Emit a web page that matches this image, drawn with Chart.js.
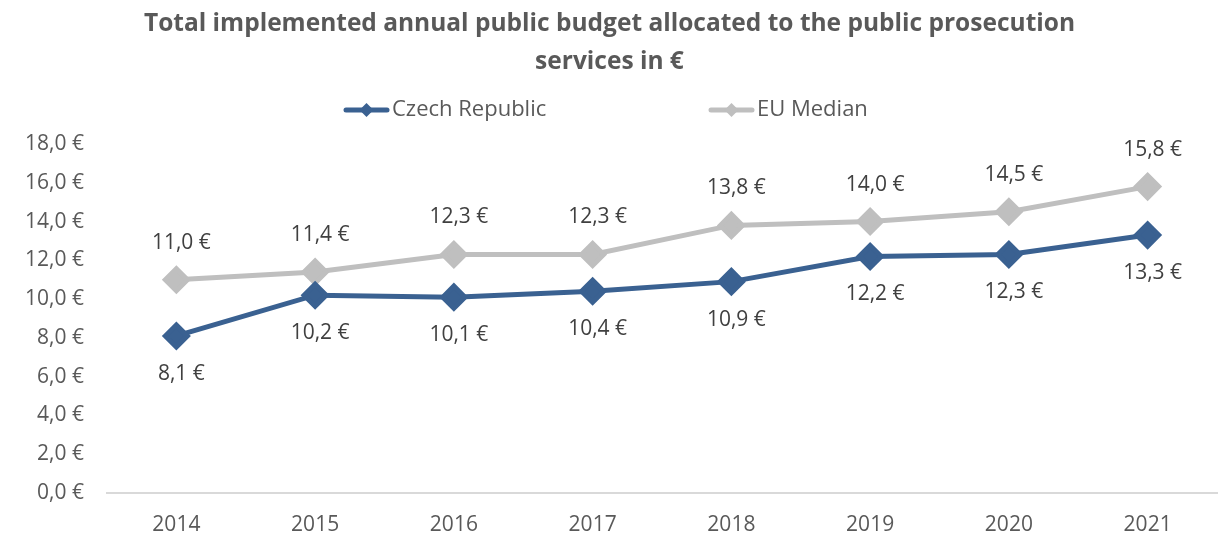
<!DOCTYPE html>
<html>
<head>
<meta charset="utf-8">
<script src="https://cdn.jsdelivr.net/npm/chart.js@4/dist/chart.umd.min.js"></script>
<style>
  html, body { margin: 0; padding: 0; background: #fff; overflow: hidden; }
  canvas { display: block; }
</style>
</head>
<body>
<canvas id="budgetChart" width="1219" height="541"></canvas>
<script>
const years = ['2014', '2015', '2016', '2017', '2018', '2019', '2020', '2021'];
const czechValues = [8.1, 10.2, 10.1, 10.4, 10.9, 12.2, 12.3, 13.3];
const euMedianValues = [11.0, 11.4, 12.3, 12.3, 13.8, 14.0, 14.5, 15.8];
const titleLines = ['Total implemented annual public budget allocated to the public prosecution', 'services in €'];

const FONT = "'Open Sans', sans-serif";
const BLUE = '#3a6191';
const GREY = '#bfbfbf';

const euro = v => v.toFixed(1).replace('.', ',') + ' €';

// value labels: grey above the point, blue below
const valueLabels = {
    id: 'valueLabels',
    afterDatasetsDraw(chart) {
        const ctx = chart.ctx;
        ctx.save();
        ctx.font = '21px ' + FONT;
        ctx.fillStyle = '#404040';
        ctx.textAlign = 'center';
        ctx.textBaseline = 'middle';
        chart.data.datasets.forEach((ds, i) => {
            const meta = chart.getDatasetMeta(i);
            meta.data.forEach((pt, j) => {
                const dy = ds.labelAbove ? -37 : 38;
                ctx.fillText(euro(ds.data[j]), pt.x + 5, pt.y + dy);
            });
        });
        ctx.restore();
    }
};

// legend drawn as line + diamond like the original
const legendX = [343, 708];
const lineLegend = {
    id: 'lineLegend',
    afterDraw(chart) {
        const ctx = chart.ctx;
        const y = 110;
        ctx.save();
        ctx.font = '22px ' + FONT;
        ctx.textBaseline = 'middle';
        chart.data.datasets.forEach((ds, i) => {
            const x = legendX[i];
            ctx.strokeStyle = ds.borderColor;
            ctx.lineWidth = 5;
            ctx.lineCap = 'round';
            ctx.beginPath();
            ctx.moveTo(x + 3, y);
            ctx.lineTo(x + 44, y);
            ctx.stroke();
            ctx.fillStyle = ds.borderColor;
            ctx.beginPath();
            ctx.moveTo(x + 23.5, y - 7);
            ctx.lineTo(x + 30.5, y);
            ctx.lineTo(x + 23.5, y + 7);
            ctx.lineTo(x + 16.5, y);
            ctx.closePath();
            ctx.fill();
            ctx.fillStyle = '#595959';
            ctx.textAlign = 'left';
            ctx.fillText(ds.label, x + 49, y);
        });
        ctx.restore();
    }
};

new Chart(document.querySelector('#budgetChart'), {
    type: 'line',
    data: {
        labels: years,
        datasets: [
            {
                label: 'Czech Republic',
                data: czechValues,
                borderColor: BLUE,
                backgroundColor: BLUE,
                borderWidth: 5,
                pointStyle: 'rectRot',
                pointRadius: 11,
                pointHoverRadius: 11,
                labelAbove: false,
                order: 1
            },
            {
                label: 'EU Median',
                data: euMedianValues,
                borderColor: GREY,
                backgroundColor: GREY,
                borderWidth: 5,
                pointStyle: 'rectRot',
                pointRadius: 11,
                pointHoverRadius: 11,
                labelAbove: true,
                order: 2
            },
        ],
    },
    options: {
        responsive: false,
        animation: false,
        layout: { autoPadding: false, padding: { left: 2, right: 2, top: 0, bottom: 4 } },
        plugins: {
            legend: { display: false },
            tooltip: { enabled: false },
            title: {
                display: true,
                text: titleLines,
                color: '#595959',
                font: { family: FONT, size: 24.5, weight: 'bold', lineHeight: 1.55 },
                padding: { top: 5, bottom: 63 }
            }
        },
        scales: {
            x: {
                offset: true,
                afterFit: scale => { scale.height = 44; },
                grid: { display: false, drawTicks: false },
                border: { display: true, color: '#d9d9d9', width: 2 },
                ticks: { color: '#595959', font: { family: FONT, size: 21 }, padding: 19 }
            },
            y: {
                min: 0,
                max: 18,
                afterFit: scale => { scale.width = 105; },
                grid: { display: false, drawTicks: false },
                border: { display: false },
                ticks: {
                    stepSize: 2,
                    color: '#595959',
                    font: { family: FONT, size: 21 },
                    padding: 23,
                    callback: v => euro(v)
                }
            }
        }
    },
    plugins: [valueLabels, lineLegend]
});
</script>
</body>
</html>
